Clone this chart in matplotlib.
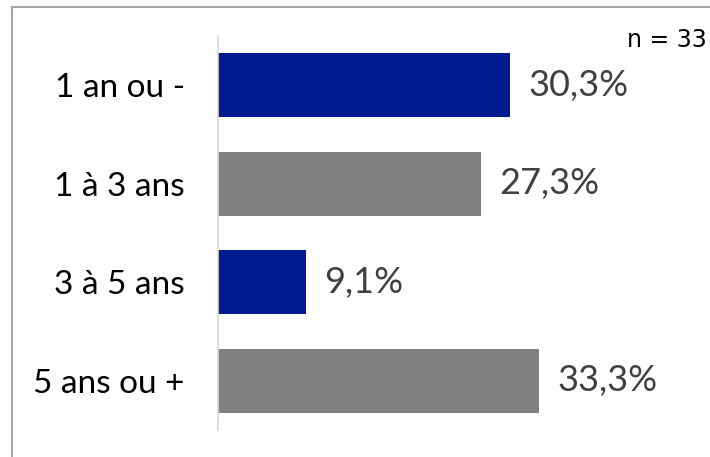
import matplotlib
matplotlib.use("Agg")
import matplotlib.pyplot as plt
from matplotlib.lines import Line2D

# --- Data ---
categories = ["1 an ou -", "1 à 3 ans", "3 à 5 ans", "5 ans ou +"]
values = [30.3, 27.3, 9.1, 33.3]
bar_colors = ["#001a8f", "#808080", "#001a8f", "#808080"]
note = "n = 33"

FONT = "Lato"

fig = plt.figure(figsize=(7.10, 4.57), dpi=100)
fig.patch.set_facecolor("white")

# axes placed in pixel terms of the 710x457 canvas
ax = fig.add_axes([218 / 710, 27 / 457, 482 / 710, 394 / 457])
ax.barh(range(len(categories)), values, height=0.65, color=bar_colors)

ax.set_xlim(0, 50)
ax.set_ylim(3.5, -0.5)
ax.set_yticks(range(len(categories)))
ax.set_yticklabels(categories, fontsize=24, family=FONT, color="black")
ax.tick_params(axis="y", length=0, pad=24)
ax.set_xticks([])

for s in ["top", "right", "bottom"]:
    ax.spines[s].set_visible(False)
ax.spines["left"].set_color("#d9d9d9")
ax.spines["left"].set_linewidth(1.2)

# value labels
for i, v in enumerate(values):
    ax.annotate(f"{v:.1f}".replace(".", ",") + "%", (v, i),
                xytext=(18, 0), textcoords="offset pixels",
                ha="left", va="center", fontsize=26, family=FONT,
                color="#404040")

fig.text(707 / 710, 1 - 40 / 457, note, ha="right", va="center",
         fontsize=17, family="DejaVu Sans", color="black")

# outer frame (top and left visible, runs off the canvas)
fig.add_artist(Line2D([11.5 / 710, 1.0], [1 - 6.5 / 457, 1 - 6.5 / 457],
                      transform=fig.transFigure, color="#a6a6a6", lw=1.5))
fig.add_artist(Line2D([11.5 / 710, 11.5 / 710], [0, 1 - 6.5 / 457],
                      transform=fig.transFigure, color="#a6a6a6", lw=1.5))

fig.savefig("out.png", dpi=100)
